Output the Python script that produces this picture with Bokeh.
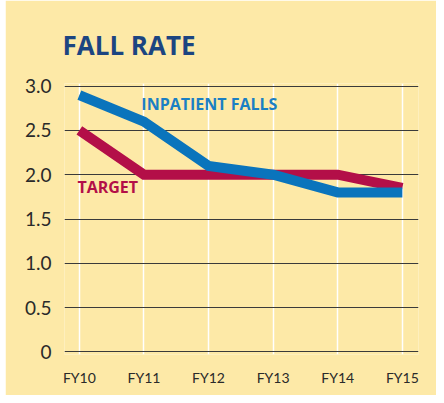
from bokeh.plotting import figure
from bokeh.models import Range1d, FixedTicker
from bokeh.core.properties import value
from bokeh.embed import file_html
from bokeh.resources import INLINE

years = ["FY10", "FY11", "FY12", "FY13", "FY14", "FY15"]
inpatient_falls = [2.9, 2.6, 2.1, 2.0, 1.8, 1.8]
target = [2.5, 2.0, 2.0, 2.0, 2.0, 1.85]
y_ticks = [0, 0.5, 1.0, 1.5, 2.0, 2.5, 3.0]
y_tick_labels = ["0", "0.5", "1.0", "1.5", "2.0", "2.5", "3.0"]

xs = list(range(len(years)))
BG = "#FDE9A7"
FONT = "Lato"
LABEL_FONT = "Open Sans"

p = figure(width=431, height=395, output_backend="svg", toolbar_location=None,
           x_range=Range1d(-0.23, 5.25), y_range=Range1d(-0.03, 3.03),
           min_border_left=59, min_border_right=18, min_border_top=83, min_border_bottom=41,
           title="FALL RATE")
p.margin = (0, 0, 0, 5)
p.background_fill_color = BG
p.border_fill_color = BG
p.outline_line_color = None

p.title.text_font = LABEL_FONT
p.title.text_font_size = "26px"
p.title.text_font_style = "bold"
p.title.text_color = "#1C4581"
p.title.offset = -2
p.title.standoff = 42

# grids
p.xgrid.ticker = FixedTicker(ticks=xs)
p.xgrid.grid_line_color = "white"
p.xgrid.grid_line_width = 1.5
p.ygrid.ticker = FixedTicker(ticks=y_ticks)
p.ygrid.grid_line_color = "#3a3a3a"
p.ygrid.grid_line_width = 1.2

# axes
p.xaxis.ticker = FixedTicker(ticks=xs)
p.xaxis.major_label_overrides = {i: y for i, y in enumerate(years)}
p.yaxis.ticker = FixedTicker(ticks=y_ticks)
p.yaxis.major_label_overrides = {t: l for t, l in zip(y_ticks, y_tick_labels)}
for ax in (p.xaxis[0], p.yaxis[0]):
    ax.axis_line_color = None
    ax.major_tick_line_color = None
    ax.minor_tick_line_color = None
    ax.major_label_text_font = FONT
    ax.major_label_text_color = "#2a2a2a"
p.xaxis.major_label_text_font_size = "14px"
p.xaxis.major_label_standoff = 8
p.yaxis.major_label_text_font_size = "19px"
p.yaxis.major_label_standoff = 7

p.line(xs, target, line_color="#B30F48", line_width=10, line_cap="butt", line_join="miter")
p.line(xs, inpatient_falls, line_color="#0A74BC", line_width=10, line_cap="butt", line_join="miter")

p.text(x=[0.96], y=[2.8], text=["INPATIENT FALLS"], text_font=value(LABEL_FONT),
       text_font_size="16px", text_font_style="bold", text_color="#1A7FC4",
       text_baseline="middle", text_align="left")
p.text(x=[-0.03], y=[1.86], text=["TARGET"], text_font=value(LABEL_FONT),
       text_font_size="16px", text_font_style="bold", text_color="#B30F48",
       text_baseline="middle", text_align="left")

open("out.html", "w").write(file_html(p, INLINE))
